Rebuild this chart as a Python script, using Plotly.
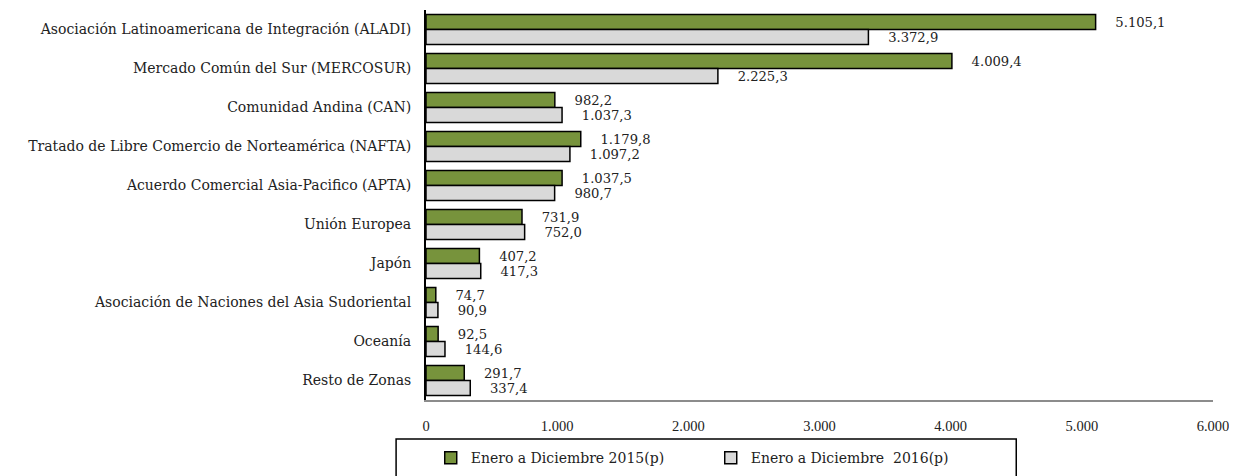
import plotly.graph_objects as go

categories = [
    "Asociación Latinoamericana de Integración (ALADI)",
    "Mercado Común del Sur (MERCOSUR)",
    "Comunidad Andina (CAN)",
    "Tratado de Libre Comercio de Norteamérica (NAFTA)",
    "Acuerdo Comercial Asia-Pacifico (APTA)",
    "Unión Europea",
    "Japón",
    "Asociación de Naciones del Asia Sudoriental",
    "Oceanía",
    "Resto de Zonas",
]
values_2015 = [5105.1, 4009.4, 982.2, 1179.8, 1037.5, 731.9, 407.2, 74.7, 92.5, 291.7]
values_2016 = [3372.9, 2225.3, 1037.3, 1097.2, 980.7, 752.0, 417.3, 90.9, 144.6, 337.4]
series_names = ["Enero a Diciembre 2015(p)", "Enero a Diciembre  2016(p)"]
tick_vals = [0, 1000, 2000, 3000, 4000, 5000, 6000]

FONT = "DejaVu Serif"
FS = 14
TXT = "#222"
fig = go.Figure()
for name, vals, color in [(series_names[0], values_2015, "#77933C"),
                          (series_names[1], values_2016, "#D9D9D9")]:
    fig.add_trace(go.Bar(
        y=categories, x=vals, orientation="h", name=name,
        marker=dict(color=color, line=dict(color="black", width=1.5)),
        texttemplate="\u00a0\u00a0\u00a0\u00a0%{x:,.1f}", textposition="outside", cliponaxis=False,
        textfont=dict(family=FONT, size=FS, color=TXT),
    ))

fig.update_layout(
    width=1229, height=468,
    margin=dict(l=418, r=24, t=2, b=76, autoexpand=False),
    paper_bgcolor="white", plot_bgcolor="white",
    separators=",.",
    barmode="group", bargap=0.23, bargroupgap=0,
    font=dict(family=FONT, size=FS, color=TXT),
    showlegend=True,
    legend=dict(orientation="h", x=0.006, xanchor="left", y=-0.149, yanchor="middle",
                bgcolor="rgba(0,0,0,0)", entrywidth=235, entrywidthmode="pixels",
                font=dict(family=FONT, size=FS, color=TXT)),
    shapes=[dict(type="rect", xref="paper", yref="paper",
                 x0=-0.038, x1=0.750, y0=-0.1, y1=-0.3,
                 line=dict(color="black", width=1.5))],
)
fig.update_xaxes(range=[0, 6000], tickvals=tick_vals, tickformat=",.0f", automargin=False,
                 showgrid=False, zeroline=False, showline=True, linecolor="#8c8c8c", linewidth=2,
                 ticks="", ticklabelstandoff=12,
                 tickfont=dict(family="Liberation Serif", size=14.5, color=TXT))
fig.update_yaxes(autorange="reversed", automargin=False, showgrid=False, showline=True,
                 linecolor="black", linewidth=2,
                 ticks="", ticklabelstandoff=10,
                 tickfont=dict(family=FONT, size=FS, color=TXT))

fig.write_html("out.html")
